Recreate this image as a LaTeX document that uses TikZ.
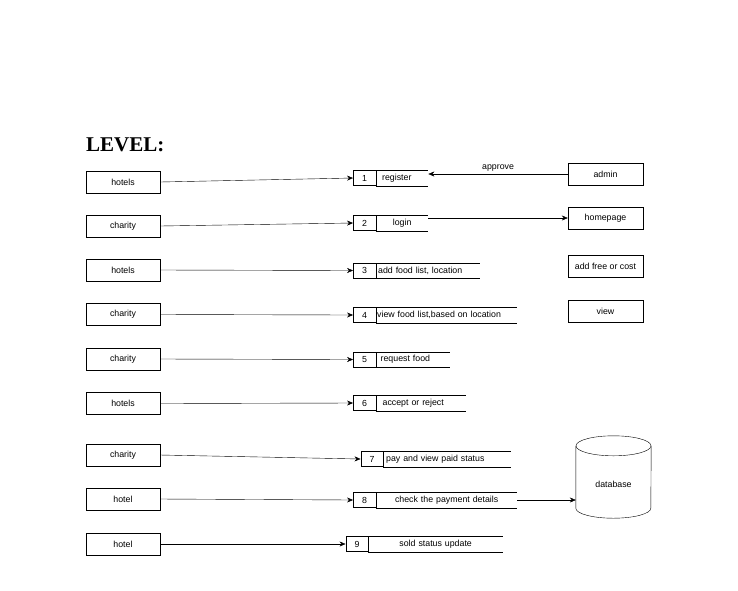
\documentclass[tikz,border=0pt]{standalone}
\usepackage{fontspec}
\setmainfont{Liberation Sans}
\newfontfamily\titlefont{Liberation Serif}
\usetikzlibrary{arrows.meta}

\begin{document}
\begin{tikzpicture}[x=1pt, y=-1pt, font=\fontsize{8.8}{10}\selectfont,
    every node/.style={inner sep=0pt},
    actor/.style={draw, minimum width=74pt, minimum height=22pt},
    numbox/.style={draw, minimum width=22.5pt, minimum height=15pt},
    lblleft/.style 2 args={anchor=west, minimum height=15pt, inner xsep=#2, text width=#1-2*#2, align=left},
    lblmid/.style={anchor=west, minimum height=15pt, inner xsep=0pt, text width=#1, align=center},
    flow/.style={-{Stealth[length=6pt, width=5pt]}}]
    \useasboundingbox (0,0) rectangle (738,590);

    \node[anchor=base west, font=\titlefont\bfseries\fontsize{21}{24}\selectfont] (title) at (86,151) {LEVEL:};

    % entities on the left
    \node[actor] (h1) at (123,182) {hotels};
    \node[actor] (h2) at (123,226) {charity};
    \node[actor] (h3) at (123,270) {hotels};
    \node[actor] (h4) at (123,314.5) {charity};
    \node[actor] (h5) at (123,359) {charity};
    \node[actor] (h6) at (123,403.5) {hotels};
    \node[actor] (h7) at (123,455) {charity};
    \node[actor] (h8) at (123,499) {hotel};
    \node[actor] (h9) at (123,544) {hotel};

    % processes
    \node[numbox] (n1) at (364.5,178) {1};
    \node[lblleft={52pt}{6pt}] (l1) at (n1.east) {register};
    \node[numbox] (n2) at (364.5,223) {2};
    \node[lblmid=52pt] (l2) at (n2.east) {login};
    \node[numbox] (n3) at (364.5,270.5) {3};
    \node[lblleft={104pt}{2pt}] (l3) at (n3.east) {add food list, location};
    \node[numbox] (n4) at (364.5,315) {4};
    \node[lblleft={141pt}{1pt}] (l4) at (n4.east) {view food list,based on location};
    \node[numbox] (n5) at (364.5,359.5) {5};
    \node[lblleft={74pt}{4.5pt}] (l5) at (n5.east) {request food};
    \node[numbox] (n6) at (364.5,403) {6};
    \node[lblleft={90pt}{6.5pt}] (l6) at (n6.east) {accept or reject};
    \node[numbox] (n7) at (372,459) {7};
    \node[lblleft={127pt}{2.5pt}] (l7) at (n7.east) {pay and view paid status};
    \node[numbox] (n8) at (364.5,500) {8};
    \node[lblmid=141pt] (l8) at (n8.east) {check the payment details};
    \node[numbox] (n9) at (357,544) {9};
    \node[lblmid=134pt] (l9) at (n9.east) {sold status update};

    \foreach \l in {l1,l2,l3,l4,l5,l6,l7,l8,l9}
        \draw (\l.north west) -- (\l.north east) (\l.south west) -- (\l.south east);

    % right side
    \node[actor, minimum width=75pt] (admin) at (605.5,174) {admin};
    \node[actor, minimum width=75pt] (home) at (605.5,218) {homepage};
    \node[actor, minimum width=75pt] (cost) at (605.5,266.5) {add free or cost};
    \node[actor, minimum width=75pt] (view) at (605.5,311) {view};
    \node[minimum width=75pt, minimum height=82pt] (db) at (613.5,477) {};
    \draw ([yshift=-10pt]db.north west) -- ([yshift=10pt]db.south west)
        arc[start angle=180, end angle=360, x radius=37.5pt, y radius=10pt]
        -- ([yshift=-10pt]db.north east);
    \draw ([yshift=-10pt]db.north) ellipse[x radius=37.5pt, y radius=10pt];
    \node (dbtext) at (613.5,484) {database};

    \draw[flow] (h1.east) -- (n1.west);
    \draw[flow] (h2.east) -- (n2.west);
    \draw[flow] (h3.east) -- (n3.west);
    \draw[flow] (h4.east) -- (n4.west);
    \draw[flow] (h5.east) -- (n5.west);
    \draw[flow] (h6.east) -- (n6.west);
    \draw[flow] (h7.east) -- (n7.west);
    \draw[flow] (h8.east) -- (n8.west);
    \draw[flow] (h9.east) -- (n9.west);
    \draw[flow] (admin.west) -- node[above=2pt] {approve} (admin.west -| l1.east);
    \draw[flow] (home.west -| l2.east) -- (home.west);
    \draw[flow] (l8.east) -- (l8.east -| db.west);
\end{tikzpicture}
\end{document}
